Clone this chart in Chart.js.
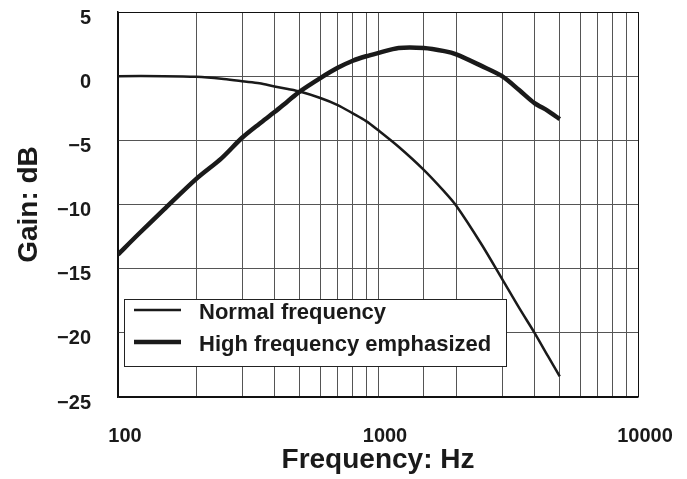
<!DOCTYPE html>
<html lang="en">
<head>
  <meta charset="UTF-8">
  <title>Gain vs Frequency</title>
  <script src="https://cdn.jsdelivr.net/npm/chart.js"></script>
  <style>
    body { margin: 0; background: #fff; }
    #wrap { width: 687px; height: 479px; position: relative; }
  </style>
</head>
<body>
  <div id="wrap"><canvas id="gainChart"></canvas></div>

  <script>
    // Values
    const normalFreq = [100, 150, 200, 250, 300, 350, 400, 450, 500, 600, 700, 800, 900, 1000, 1200, 1500, 1800, 2000, 2500, 3000, 3500, 4000, 4500, 5000];
    const normalGain = [0, 0, -0.05, -0.2, -0.4, -0.55, -0.8, -1.0, -1.2, -1.7, -2.25, -2.9, -3.5, -4.2, -5.5, -7.3, -9.0, -10.1, -13.1, -15.8, -18.1, -20.0, -21.8, -23.4];

    const highFreq = [100, 120, 150, 200, 250, 300, 350, 400, 450, 500, 600, 700, 800, 900, 1000, 1200, 1500, 1800, 2000, 2500, 3000, 3500, 4000, 4500, 5000];
    const highGain = [-13.9, -12.3, -10.4, -8.0, -6.4, -4.8, -3.7, -2.8, -1.95, -1.2, -0.15, 0.65, 1.2, 1.55, 1.8, 2.2, 2.2, 1.95, 1.7, 0.8, 0, -1.1, -2.1, -2.7, -3.35];

    const seriesNames = ['Normal frequency', 'High frequency emphasized'];
    const xTickLabels = [100, 1000, 10000];
    const yTicks = [-25, -20, -15, -10, -5, 0, 5];

    const toPoints = (xs, ys) => xs.map((x, i) => ({ x: x, y: ys[i] }));

    const FONT = '"Liberation Sans", Arial, Helvetica, sans-serif';

    // legend box drawn inside the plot area, on top of the grid
    const boxLegend = {
      id: 'boxLegend',
      afterDraw(chart) {
        const ctx = chart.ctx;
        const x0 = 124, y0 = 299, w = 382, h = 67;
        ctx.save();
        ctx.fillStyle = '#fff';
        ctx.fillRect(x0, y0, w, h);
        ctx.strokeStyle = '#222';
        ctx.lineWidth = 1;
        ctx.strokeRect(x0 + 0.5, y0 + 0.5, w, h);
        ctx.font = 'bold 22px ' + FONT;
        ctx.fillStyle = '#1a1a1a';
        ctx.textBaseline = 'middle';
        chart.data.datasets.forEach((ds, i) => {
          const yy = 310 + i * 32;
          ctx.strokeStyle = ds.borderColor;
          ctx.lineWidth = ds.borderWidth;
          ctx.beginPath();
          ctx.moveTo(134, yy);
          ctx.lineTo(181, yy);
          ctx.stroke();
          ctx.fillText(ds.label, 199, yy + 3);
        });
        ctx.restore();
      }
    };

    new Chart(document.getElementById('gainChart'), {
      type: 'line',
      data: {
        datasets: [
          {
            label: seriesNames[0],
            data: toPoints(normalFreq, normalGain),
            borderColor: '#1a1a1a',
            borderWidth: 2.5,
            pointRadius: 0,
            tension: 0.3
          },
          {
            label: seriesNames[1],
            data: toPoints(highFreq, highGain),
            borderColor: '#1a1a1a',
            borderWidth: 4.5,
            pointRadius: 0,
            tension: 0.3
          }
        ]
      },
      options: {
        responsive: true,
        maintainAspectRatio: false,
        animation: false,
        layout: { padding: { left: 0, right: 49, top: 12, bottom: 0 } },
        plugins: {
          legend: { display: false },
          tooltip: { enabled: false }
        },
        scales: {
          x: {
            type: 'logarithmic',
            min: 100,
            max: 10000,
            afterFit: (scale) => {
              scale.height = 82;
              scale.paddingLeft = 0;
              scale.paddingRight = 0;
            },
            border: { color: '#111', width: 1.5 },
            grid: {
              drawTicks: false,
              lineWidth: 1,
              color: (c) => (c.tick && (c.tick.value === 100 || c.tick.value === 10000)) ? '#111' : '#555'
            },
            ticks: {
              autoSkip: false,
              maxRotation: 0,
              padding: 27,
              labelOffset: 7,
              color: '#1a1a1a',
              font: { family: FONT, size: 20, weight: 'bold' },
              callback: (v) => xTickLabels.includes(v) ? String(v) : ''
            },
            title: {
              display: true,
              text: 'Frequency: Hz',
              color: '#1a1a1a',
              font: { family: FONT, size: 28, weight: 'bold', lineHeight: 1.2 },
              padding: { top: 0, bottom: 2 }
            }
          },
          y: {
            min: -25,
            max: 5,
            afterFit: (scale) => {
              scale.width = 118;
              scale.paddingTop = 0;
              scale.paddingBottom = 0;
            },
            afterBuildTicks: (scale) => { scale.ticks = yTicks.map(v => ({ value: v })); },
            border: { color: '#111', width: 1.5 },
            grid: {
              drawTicks: false,
              lineWidth: 1,
              color: (c) => (c.tick && (c.tick.value === 5 || c.tick.value === -25)) ? '#111' : '#555'
            },
            ticks: {
              padding: 27,
              labelOffset: 6,
              color: '#1a1a1a',
              font: { family: FONT, size: 20, weight: 'bold' },
              callback: (v) => String(v).replace('-', '\u2212')
            },
            title: {
              display: true,
              text: 'Gain: dB',
              color: '#1a1a1a',
              font: { family: FONT, size: 28, weight: 'bold', lineHeight: 1.2 },
              padding: { top: 12, bottom: 0 }
            }
          }
        }
      },
      plugins: [boxLegend]
    });
  </script>
</body>
</html>
